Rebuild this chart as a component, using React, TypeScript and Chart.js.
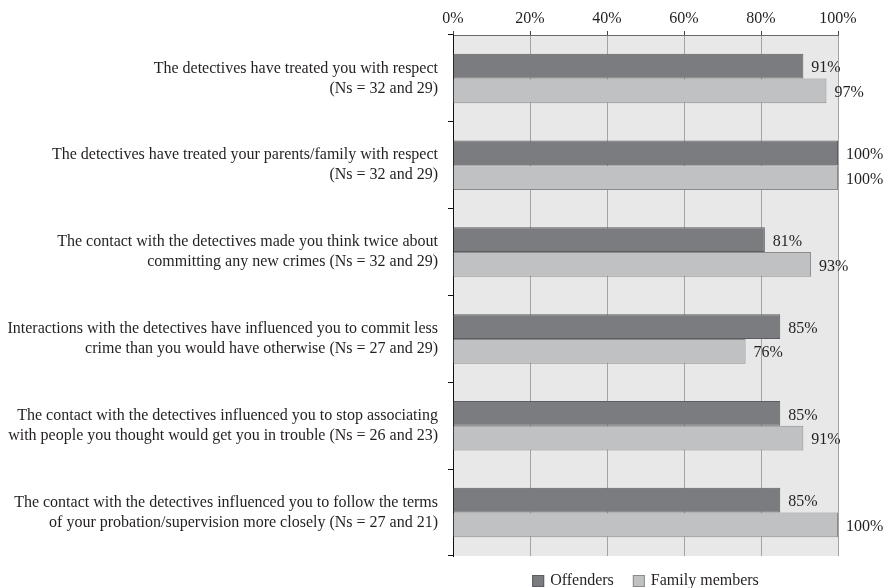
import React, { useEffect, useRef } from "react";
import { Chart, registerables } from "chart.js";

Chart.register(...registerables);

const categories: string[][] = [
  ["The detectives have treated you with respect", "(Ns = 32 and 29)"],
  ["The detectives have treated your parents/family with respect", "(Ns = 32 and 29)"],
  ["The contact with the detectives made you think twice about", "committing any new crimes (Ns = 32 and 29)"],
  ["Interactions with the detectives have influenced you to commit less", "crime than you would have otherwise (Ns = 27 and 29)"],
  ["The contact with the detectives influenced you to stop associating", "with people you thought would get you in trouble (Ns = 26 and 23)"],
  ["The contact with the detectives influenced you to follow the terms", "of your probation/supervision more closely (Ns = 27 and 21)"],
];

const offenders: number[] = [91, 100, 81, 85, 85, 85];
const familyMembers: number[] = [97, 100, 93, 76, 91, 100];

const seriesNames: string[] = ["Offenders", "Family members"];
const xTicks: number[] = [0, 20, 40, 60, 80, 100];

const FONT = "'Liberation Serif', 'Times New Roman', serif";
const TEXT = "#231f20";
const OFF_FILL = "#7b7c7f";
const OFF_BORDER = "#5c5d60";
const FAM_FILL = "#c0c1c3";
const FAM_BORDER = "#8a8b8d";

const bgPlugin = {
  id: "plotBg",
  beforeDraw(chart: any) {
    const { ctx, chartArea } = chart;
    ctx.save();
    ctx.fillStyle = "#e8e8e8";
    ctx.fillRect(chartArea.left, chartArea.top, chartArea.right - chartArea.left, chartArea.bottom - chartArea.top);
    ctx.restore();
  },
};

const labelPlugin = {
  id: "valueLabels",
  afterDatasetsDraw(chart: any) {
    const { ctx } = chart;
    ctx.save();
    ctx.font = `16px ${FONT}`;
    ctx.fillStyle = TEXT;
    ctx.textAlign = "left";
    ctx.textBaseline = "middle";
    chart.data.datasets.forEach((ds: any, i: number) => {
      const meta = chart.getDatasetMeta(i);
      meta.data.forEach((el: any, j: number) => {
        ctx.fillText(`${ds.data[j]}%`, el.x + 8, el.y + 2);
      });
    });
    ctx.restore();
  },
};

const legendPlugin = {
  id: "customLegend",
  afterDraw(chart: any) {
    const { ctx, chartArea } = chart;
    ctx.save();
    ctx.font = `16px ${FONT}`;
    ctx.textBaseline = "middle";
    ctx.textAlign = "left";
    const box = 12;
    const gap = 6;
    const itemGap = 19;
    const fills = [OFF_FILL, FAM_FILL];
    const borders = [OFF_BORDER, FAM_BORDER];
    const widths = seriesNames.map((n) => box + gap + ctx.measureText(n).width);
    const total = widths.reduce((a, b) => a + b, 0) + itemGap * (seriesNames.length - 1);
    let x = (chartArea.left + chartArea.right) / 2 - total / 2;
    const y = 581;
    seriesNames.forEach((n, i) => {
      ctx.fillStyle = fills[i];
      ctx.fillRect(x, y - box / 2, box, box);
      ctx.strokeStyle = borders[i];
      ctx.lineWidth = 1;
      ctx.strokeRect(x + 0.5, y - box / 2 + 0.5, box - 1, box - 1);
      ctx.fillStyle = TEXT;
      ctx.fillText(n, x + box + gap, y);
      x += widths[i] + itemGap;
    });
    ctx.restore();
  },
};

export default function App() {
  const ref = useRef<HTMLCanvasElement | null>(null);

  useEffect(() => {
    document.body.style.margin = "0";
    if (!ref.current) return;
    const chart = new Chart(ref.current, {
      type: "bar",
      data: {
        labels: categories,
        datasets: [
          {
            label: seriesNames[0],
            data: offenders,
            backgroundColor: OFF_FILL,
            borderColor: OFF_BORDER,
            borderWidth: 1,
            categoryPercentage: 0.57,
            barPercentage: 1,
          },
          {
            label: seriesNames[1],
            data: familyMembers,
            backgroundColor: FAM_FILL,
            borderColor: FAM_BORDER,
            borderWidth: 1,
            categoryPercentage: 0.57,
            barPercentage: 1,
          },
        ],
      },
      options: {
        indexAxis: "y",
        animation: false,
        responsive: false,
        maintainAspectRatio: false,
        layout: { padding: { left: 0, right: 45, top: 0, bottom: 32 } },
        plugins: {
          legend: { display: false },
          tooltip: { enabled: false },
        },
        scales: {
          x: {
            position: "top",
            min: 0,
            max: 100,
            afterFit: (s: any) => {
              s.height = 35;
            },
            afterBuildTicks: (s: any) => {
              s.ticks = xTicks.map((v) => ({ value: v }));
            },
            ticks: {
              callback: (v: any) => `${v}%`,
              font: { family: FONT, size: 16 },
              color: TEXT,
              padding: 3,
            },
            grid: {
              color: "#a3a3a3",
              tickColor: "#444",
              tickLength: 4,
              lineWidth: 1,
            },
            border: { display: true, color: "#6a6a6a", width: 1 },
          },
          y: {
            afterFit: (s: any) => {
              s.width = 453;
            },
            ticks: {
              font: { family: FONT, size: 16, lineHeight: 1.25 },
              color: TEXT,
              padding: 10,
            },
            grid: {
              drawOnChartArea: false,
              tickColor: "#111",
              tickLength: 5,
              offset: true,
            },
            border: { display: true, color: "#111", width: 1 },
          },
        },
      },
      plugins: [bgPlugin, labelPlugin, legendPlugin],
    });
    return () => chart.destroy();
  }, []);

  return (
    <div style={{ width: 883, height: 588 }}>
      <canvas ref={ref} width={883} height={588} style={{ width: 883, height: 588 }} />
    </div>
  );
}
